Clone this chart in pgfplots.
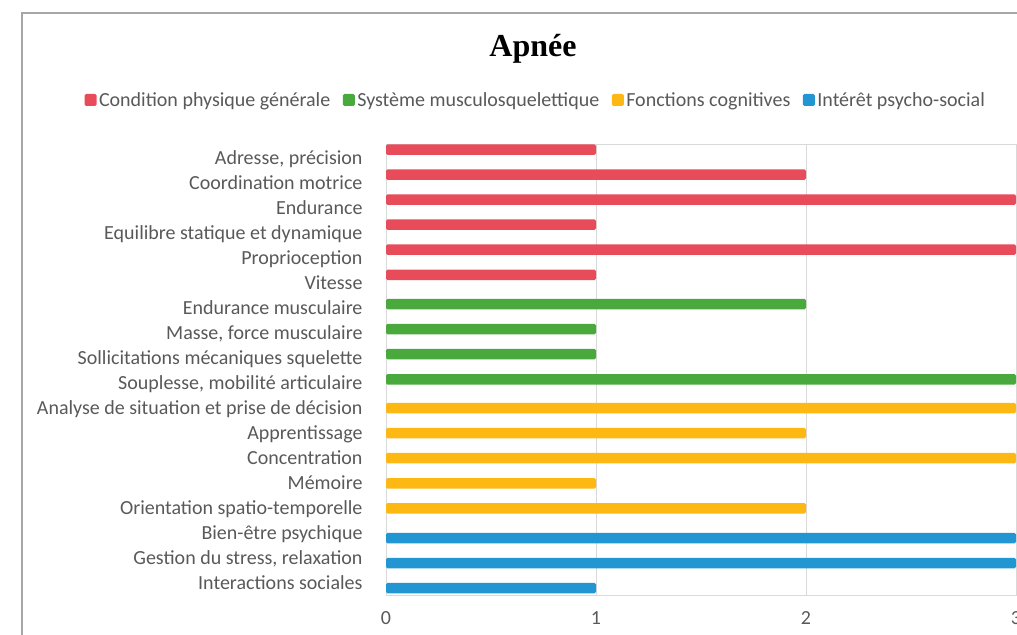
\documentclass[border=0pt]{standalone}
\usepackage{pgfplots}
\pgfplotsset{compat=1.18}
\usepackage{fontspec}
\setmainfont{Carlito}
\newfontfamily\titlefont{Liberation Serif}
\definecolor{cred}{HTML}{E84C5A}
\definecolor{cgreen}{HTML}{4AA93C}
\definecolor{cyellow}{HTML}{FDB813}
\definecolor{cblue}{HTML}{2196D3}
\definecolor{ctext}{HTML}{595959}
\definecolor{cgrid}{HTML}{D9D9D9}
\definecolor{cframe}{HTML}{F2CDD0}
\definecolor{couter}{HTML}{A6A6A6}

\begin{document}
\begin{tikzpicture}
\useasboundingbox (0bp,0bp) rectangle (1017bp,635bp);
\draw[couter, line width=1.5bp] (22bp,-5bp) -- (22bp,622bp) -- (1030bp,622bp);
\node[font=\titlefont\bfseries\fontsize{32bp}{36bp}\selectfont] at (533bp,586bp) {Apnée};
\begin{axis}[
  at={(386bp,40bp)}, anchor=south west, scale only axis,
  width=630bp, height=451bp,
  xmin=0, xmax=3, ymin=0.5, ymax=18.5, y dir=reverse,
  xtick={0,1,2,3}, xmajorgrids, grid style={cgrid, line width=0.8bp},
  ytick={1,...,18},
  yticklabels={{Adresse, précision},Coordination motrice,Endurance,Equilibre statique et dynamique,Proprioception,Vitesse,Endurance musculaire,{Masse,  force musculaire},Sollicitations mécaniques squelette,{Souplesse, mobilité articulaire},Analyse de situation et prise de décision,Apprentissage,Concentration,Mémoire,Orientation spatio-temporelle,Bien-être psychique,{Gestion du stress, relaxation},Interactions sociales},
  major tick length=0,
  x axis line style={cframe, line width=0.8bp},
  y axis line style={cgrid, line width=0.8bp},
  tick label style={font=\fontsize{20bp}{24bp}\selectfont, text=ctext},
  yticklabel style={xshift=-20bp, yshift=-2.5bp, text height=14bp, text depth=4bp},
  xticklabel style={yshift=-13bp},
  /pgf/number format/assume math mode=true,
  xbar, bar width=10.5bp, bar shift=0pt,
  legend style={at={(0.238,1.0976)}, anchor=center, draw=none, legend columns=4,
    font=\fontsize{20bp}{24bp}\selectfont, text=ctext, nodes={inner sep=2.5bp},
    /tikz/every even column/.append style={column sep=10bp}},
  legend image code/.code={\fill[#1, rounded corners=1.5bp] (0bp,-6bp) rectangle (12bp,6bp);},
]
\addplot[fill=cred, draw=none, rounded corners=1.5bp] coordinates {(1,0.72) (2,1.72) (3,2.72) (1,3.72) (3,4.72) (1,5.72)};
\addplot[fill=cgreen, draw=none, rounded corners=1.5bp] coordinates {(2,6.89) (1,7.89) (1,8.89) (3,9.89)};
\addplot[fill=cyellow, draw=none, rounded corners=1.5bp] coordinates {(3,11.04) (2,12.04) (3,13.04) (1,14.04) (2,15.04)};
\addplot[fill=cblue, draw=none, rounded corners=1.5bp] coordinates {(3,16.23) (3,17.23) (1,18.23)};
\legend{Condition physique générale,Système musculosquelettique,Fonctions cognitives,Intérêt psycho-social}
\end{axis}
\end{tikzpicture}
\end{document}
